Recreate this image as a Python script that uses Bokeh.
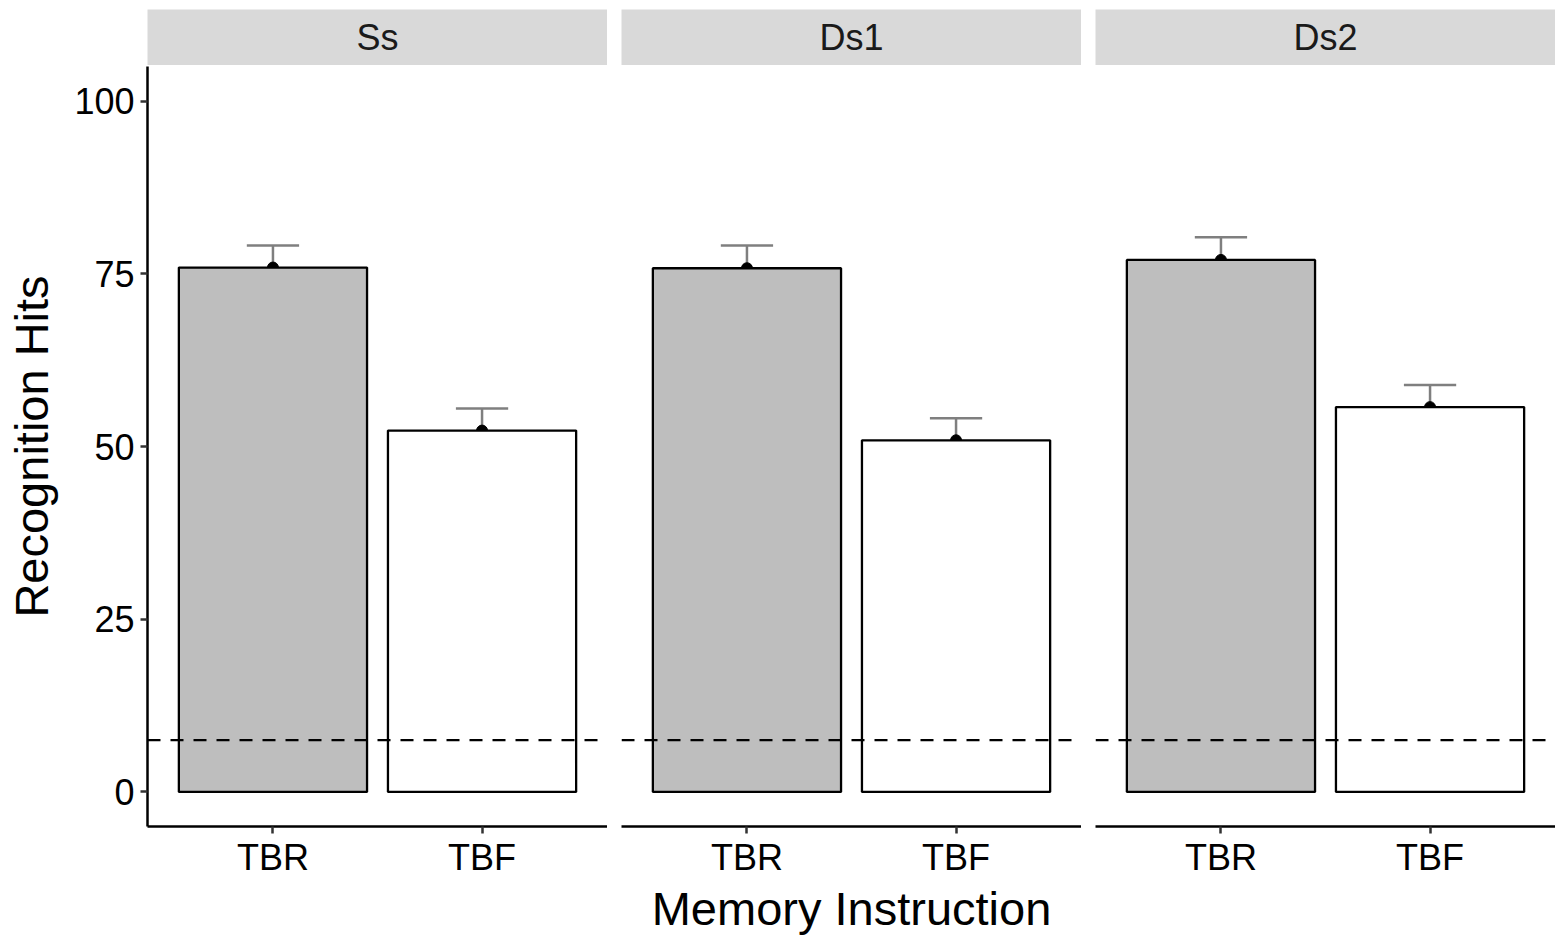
from bokeh.plotting import figure
from bokeh.layouts import column, row
from bokeh.models import Range1d, FactorRange, Span, ColumnDataSource
from bokeh.transform import dodge
from bokeh.embed import file_html
from bokeh.resources import INLINE
from bokeh.core.properties import value

# ---- data ----
panels = ["Ss", "Ds1", "Ds2"]
instructions = ["TBR", "TBF"]
mean_tbr = [75.9, 75.8, 77.0]
mean_tbf = [52.3, 50.9, 55.7]
se_tbr = [3.2, 3.3, 3.3]
se_tbf = [3.2, 3.2, 3.2]
bar_fills = ["#bebebe", "#ffffff"]
chance_level = 7.5
y_ticks = [0, 25, 50, 75, 100]
x_title = "Memory Instruction"
y_title = "Recognition Hits"

FONT = "Liberation Sans"
FRAME_W = 460
LEFT = 147
GAP = 14

strips = []
plots = []
for i, name in enumerate(panels):
    left = LEFT if i == 0 else GAP
    w = left + FRAME_W

    # strip header
    s = figure(width=w, height=65, x_range=Range1d(0, 1), y_range=Range1d(0, 1),
               x_axis_location=None, y_axis_location=None,
               min_border_top=9, min_border_bottom=0, min_border_left=left, min_border_right=0,
               background_fill_color="#d9d9d9", border_fill_color="white",
               outline_line_color=None, toolbar_location=None, output_backend="svg")
    s.xgrid.grid_line_color = None
    s.ygrid.grid_line_color = None
    s.text(x=[0.5], y=[0.5], text=[name], text_align="center", text_baseline="middle",
           text_font=value(FONT), text_font_size="36px", text_color="#1a1a1a")
    strips.append(s)

    means = [mean_tbr[i], mean_tbf[i]]
    ses = [se_tbr[i], se_tbf[i]]
    src = ColumnDataSource(dict(
        inst=instructions,
        mean=means,
        lower=[m - e for m, e in zip(means, ses)],
        upper=[m + e for m, e in zip(means, ses)],
        fill=bar_fills,
    ))

    p = figure(width=w, height=872,
               x_range=FactorRange(factors=instructions, range_padding=0.1, range_padding_units="percent"),
               y_range=Range1d(-5, 105),
               y_axis_location="left" if i == 0 else None,
               min_border_top=1, min_border_bottom=111, min_border_left=left, min_border_right=0,
               background_fill_color="white", border_fill_color="white",
               outline_line_color=None, toolbar_location=None, output_backend="svg")
    p.xgrid.grid_line_color = None
    p.ygrid.grid_line_color = None

    # error bars (drawn first so bars cover lower half)
    p.segment(x0="inst", y0="lower", x1="inst", y1="upper", source=src,
              line_color="#7f7f7f", line_width=2.5)
    p.segment(x0=dodge("inst", -0.125, range=p.x_range), y0="upper",
              x1=dodge("inst", 0.125, range=p.x_range), y1="upper", source=src,
              line_color="#7f7f7f", line_width=2.5)
    p.scatter(x="inst", y="mean", source=src, size=11, color="black")
    p.vbar(x="inst", top="mean", bottom=0, width=0.9, source=src,
           fill_color="fill", line_color="black", line_width=2.3)

    p.add_layout(Span(location=chance_level, dimension="width", line_color="black",
                      line_width=2.3, line_dash="13 10"))

    xa = p.xaxis[0]
    xa.axis_line_color = "black"
    xa.axis_line_width = 2.5
    xa.major_tick_out = 7
    xa.major_tick_in = 0
    xa.major_tick_line_color = "#333333"
    xa.major_tick_line_width = 2.5
    xa.minor_tick_line_color = None
    xa.major_label_standoff = 3
    xa.major_label_text_font = FONT
    xa.major_label_text_font_size = "36px"
    xa.major_label_text_color = "black"
    if i == 1:
        xa.axis_label = x_title
        xa.axis_label_text_font = FONT
        xa.axis_label_text_font_size = "47px"
        xa.axis_label_text_font_style = "normal"
        xa.axis_label_text_color = "black"
        xa.axis_label_standoff = 1

    if i == 0:
        ya = p.yaxis[0]
        ya.ticker = y_ticks
        ya.axis_line_color = "black"
        ya.axis_line_width = 2.5
        ya.major_tick_out = 7
        ya.major_tick_in = 0
        ya.major_tick_line_color = "#333333"
        ya.major_tick_line_width = 2.5
        ya.minor_tick_line_color = None
        ya.major_label_standoff = 6
        ya.major_label_text_font = FONT
        ya.major_label_text_font_size = "36px"
        ya.major_label_text_color = "black"
        ya.axis_label = y_title
        ya.axis_label_text_font = FONT
        ya.axis_label_text_font_size = "47px"
        ya.axis_label_text_font_style = "normal"
        ya.axis_label_text_color = "black"
        ya.axis_label_standoff = 13

    plots.append(p)

layout = column(row(*strips), row(*plots))
open("out.html", "w").write(file_html(layout, INLINE))
